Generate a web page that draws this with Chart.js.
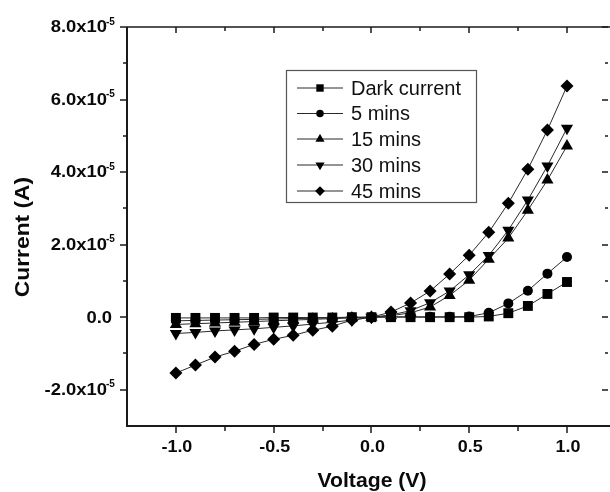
<!DOCTYPE html>
<html>
<head>
<meta charset="utf-8">
<title>I-V curves</title>
<script src="https://cdn.jsdelivr.net/npm/chart.js@4/dist/chart.umd.min.js"></script>
<style>
  html, body { margin: 0; padding: 0; background: #fff; }
  #wrap { width: 610px; height: 492px; }
</style>
</head>
<body>
<div id="wrap"><canvas id="ivChart"></canvas></div>
<script>
// voltage sweep (V)
const voltage = [-1.0, -0.9, -0.8, -0.7, -0.6, -0.5, -0.4, -0.3, -0.2, -0.1, 0.0,
                 0.1, 0.2, 0.3, 0.4, 0.5, 0.6, 0.7, 0.8, 0.9, 1.0];

// current, in units of 1e-5 A
const darkCurrent = [-0.02, -0.02, -0.02, -0.02, -0.02, -0.01, -0.01, -0.01, -0.01, 0, 0,
                     0, 0, 0, 0, 0, 0.02, 0.11, 0.31, 0.64, 0.97];
const mins5 = [-0.1, -0.09, -0.08, -0.07, -0.06, -0.05, -0.04, -0.03, -0.02, -0.01, 0,
               0.01, 0.01, 0.01, 0.01, 0.02, 0.12, 0.38, 0.73, 1.2, 1.66];
const mins15 = [-0.2, -0.18, -0.16, -0.14, -0.12, -0.1, -0.08, -0.06, -0.04, -0.02, 0,
                0.04, 0.12, 0.28, 0.6, 1.02, 1.6, 2.18, 2.95, 3.78, 4.72];
const mins30 = [-0.45, -0.42, -0.38, -0.35, -0.32, -0.28, -0.24, -0.19, -0.14, -0.08, 0,
                0.06, 0.18, 0.4, 0.72, 1.17, 1.7, 2.4, 3.23, 4.17, 5.21];
const mins45 = [-1.54, -1.32, -1.1, -0.94, -0.75, -0.61, -0.5, -0.36, -0.25, -0.08, 0,
                0.14, 0.39, 0.72, 1.19, 1.71, 2.34, 3.14, 4.08, 5.16, 6.37];

const seriesLabels = ['Dark current', '5 mins', '15 mins', '30 mins', '45 mins'];

const xTickValues = [-1.0, -0.5, 0.0, 0.5, 1.0];
const xTickLabels = ['-1.0', '-0.5', '0.0', '0.5', '1.0'];
const xMinorValues = [-0.75, -0.25, 0.25, 0.75];
const yTickValues = [-2, 0, 2, 4, 6, 8];
const yTickLabels = ['-2.0x10', '0.0', '2.0x10', '4.0x10', '6.0x10', '8.0x10'];
const yTickExp = '-5';
const yMinorValues = [-1, 1, 3, 5, 7];

const FONT = '"Liberation Sans", Arial, sans-serif';

function toPoints(ys) {
    return voltage.map((v, i) => ({ x: v, y: ys[i] }));
}

const markers = [
    { style: 'rect', radius: 7, rotation: 0 },
    { style: 'circle', radius: 5, rotation: 0 },
    { style: 'triangle', radius: 7, rotation: 0 },
    { style: 'triangle', radius: 7, rotation: 180 },
    { style: 'rectRot', radius: 6.5, rotation: 0 },
];
const seriesValues = [darkCurrent, mins5, mins15, mins30, mins45];

const datasets = seriesValues.map((vals, i) => ({
    label: seriesLabels[i],
    data: toPoints(vals),
    showLine: true,
    borderColor: '#2a2a2a',
    borderWidth: 1,
    backgroundColor: '#000',
    pointStyle: markers[i].style,
    pointRadius: markers[i].radius,
    pointRotation: markers[i].rotation,
    pointBorderWidth: 0,
    pointBackgroundColor: '#000',
    fill: false,
}));

function stretchText(ctx, text, x, y, sx, align) {
    ctx.save();
    ctx.translate(x, y);
    ctx.scale(sx, 1);
    ctx.textAlign = align;
    ctx.fillText(text, 0, 0);
    ctx.restore();
}

// axes frame, ticks and labels, drawn from the chart scales
const axesPlugin = {
    id: 'axesPlugin',
    afterDraw(chart) {
        const ctx = chart.ctx;
        const { left, right, top, bottom } = chart.chartArea;
        const xs = chart.scales.x;
        const ys = chart.scales.y;
        ctx.save();
        ctx.strokeStyle = '#1a1a1a';
        ctx.lineWidth = 2;
        ctx.beginPath();
        ctx.moveTo(left, top);
        ctx.lineTo(left, bottom);
        ctx.lineTo(right, bottom);
        ctx.stroke();
        ctx.lineWidth = 1.5;
        ctx.beginPath();
        ctx.moveTo(left, top);
        ctx.lineTo(right, top);
        ctx.stroke();

        ctx.lineWidth = 1.5;
        ctx.beginPath();
        xTickValues.forEach(v => {
            const px = Math.round(xs.getPixelForValue(v));
            ctx.moveTo(px, bottom); ctx.lineTo(px, bottom + 7);
            ctx.moveTo(px, top); ctx.lineTo(px, top + 6);
        });
        xMinorValues.forEach(v => {
            const px = Math.round(xs.getPixelForValue(v));
            ctx.moveTo(px, bottom); ctx.lineTo(px, bottom + 5);
            ctx.moveTo(px, top); ctx.lineTo(px, top + 4);
        });
        yTickValues.forEach(v => {
            const py = Math.round(ys.getPixelForValue(v));
            ctx.moveTo(left, py); ctx.lineTo(left - 7, py);
            ctx.moveTo(right - 2, py); ctx.lineTo(right - 8, py);
        });
        yMinorValues.forEach(v => {
            const py = Math.round(ys.getPixelForValue(v));
            ctx.moveTo(left, py); ctx.lineTo(left - 4, py);
            ctx.moveTo(right - 2, py); ctx.lineTo(right - 5, py);
        });
        ctx.stroke();

        ctx.fillStyle = '#0a0a0a';
        ctx.textBaseline = 'middle';
        ctx.font = 'bold 16px ' + FONT;
        xTickValues.forEach((v, i) => {
            const px = xs.getPixelForValue(v);
            stretchText(ctx, xTickLabels[i], px + 1, bottom + 22, 1.12, 'center');
        });
        yTickValues.forEach((v, i) => {
            const py = ys.getPixelForValue(v);
            ctx.font = 'bold 16px ' + FONT;
            if (v === 0) {
                stretchText(ctx, yTickLabels[i], 112, py + 1, 1.15, 'right');
            } else {
                stretchText(ctx, yTickLabels[i], 107, py + 1, 1.15, 'right');
                ctx.font = 'bold 10px ' + FONT;
                ctx.textAlign = 'left';
                ctx.fillText(yTickExp, 106, py - 5);
            }
        });

        ctx.font = 'bold 20px ' + FONT;
        stretchText(ctx, 'Voltage (V)', 372, 481, 1.06, 'center');
        ctx.save();
        ctx.translate(23, 237);
        ctx.rotate(-Math.PI / 2);
        stretchText(ctx, 'Current (A)', 0, 0, 1.14, 'center');
        ctx.restore();
        ctx.restore();
    }
};

// boxed legend inside the plot
const boxLegend = {
    id: 'boxLegend',
    afterDraw(chart) {
        const ctx = chart.ctx;
        ctx.save();
        ctx.strokeStyle = '#555';
        ctx.lineWidth = 1.2;
        ctx.strokeRect(286.5, 70.5, 190, 132);
        const rowY = [88, 113.5, 139, 165, 191];
        chart.data.datasets.forEach((ds, i) => {
            const y = rowY[i];
            ctx.strokeStyle = '#2a2a2a';
            ctx.lineWidth = 1;
            ctx.beginPath();
            ctx.moveTo(297, y);
            ctx.lineTo(343, y);
            ctx.stroke();
            ctx.fillStyle = '#000';
            Chart.helpers.drawPoint(ctx, {
                pointStyle: ds.pointStyle,
                rotation: ds.pointRotation,
                radius: ds.pointRadius * 0.75,
                borderWidth: 0
            }, 320, y);
            ctx.fillStyle = '#111';
            ctx.font = '20px ' + FONT;
            ctx.textAlign = 'left';
            ctx.textBaseline = 'middle';
            ctx.fillText(ds.label, 351, y + 1);
        });
        ctx.restore();
    }
};

new Chart(document.getElementById('ivChart'), {
    type: 'scatter',
    data: { datasets: datasets },
    options: {
        responsive: true,
        maintainAspectRatio: false,
        animation: false,
        layout: { autoPadding: false, padding: { top: 27, right: 0, left: 0, bottom: 0 } },
        plugins: {
            legend: { display: false },
            tooltip: { enabled: false },
        },
        scales: {
            x: {
                type: 'linear',
                min: -1.25,
                max: 1.22,
                grid: { display: false, drawTicks: false },
                border: { display: false },
                ticks: { display: false },
                afterFit: scale => { scale.height = 66; },
            },
            y: {
                type: 'linear',
                min: -3,
                max: 8,
                grid: { display: false, drawTicks: false },
                border: { display: false },
                ticks: { display: false },
                afterFit: scale => { scale.width = 127; },
            },
        },
    },
    plugins: [axesPlugin, boxLegend],
});
</script>
</body>
</html>
